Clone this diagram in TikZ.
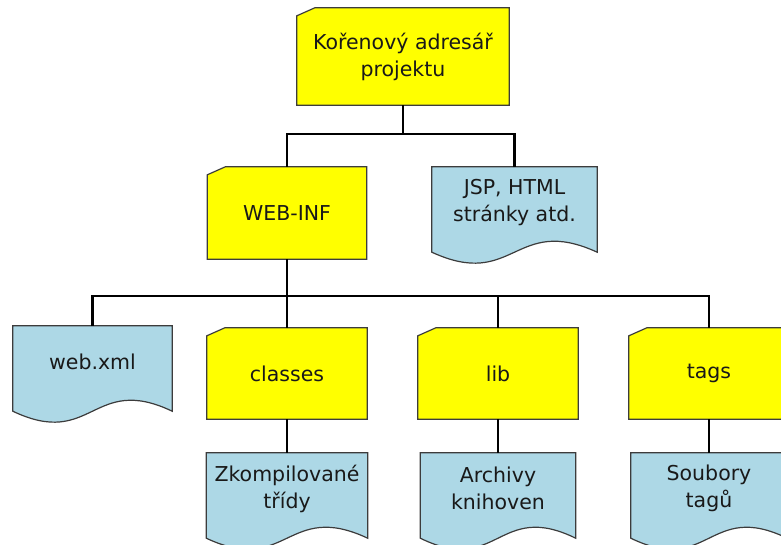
\documentclass[tikz,border=0pt]{standalone}
\usepackage{fontspec}
\setmainfont{DejaVu Sans}
\usepackage{xcolor}
\usepackage{tikz}
\usetikzlibrary{calc,backgrounds}
\definecolor{folderyellow}{RGB}{255,255,0}
\definecolor{docblue}{RGB}{173,216,230}
\definecolor{edgegray}{RGB}{60,60,60}
\tikzset{
    fold/.style={inner sep=0pt, minimum width=160pt, minimum height=91pt, align=center, text=black!90},
    docu/.style={inner sep=0pt, minimum width=160pt, minimum height=71pt, align=center, text=black!90},
    foldshape/.style={draw=edgegray, line width=1.2pt, fill=folderyellow},
    docushape/.style={draw=edgegray, line width=1.2pt, fill=docblue},
    conn/.style={draw=black, line width=2.5pt}}

\begin{document}
\begin{tikzpicture}[x=1pt,y=-1pt,font=\fontsize{20.5}{27}\selectfont]
\useasboundingbox (0,0) rectangle (781,544);

% folders
\node[fold, minimum width=212pt, minimum height=97pt] (root) at (403,56.5) {Kořenový adresář\\projektu};
\node[fold, minimum width=159pt, minimum height=92pt] (webinf) at (287,213) {WEB-INF};
\node[fold] (classes) at (287,373.5) {classes};
\node[fold] (lib) at (498,373.5) {lib};
\node[fold] (tags) at (709,373.5) {tags};

% documents
\node[docu, minimum width=165pt] (jsp) at (514.5,202.5) {JSP, HTML\\stránky atd.};
\node[docu, minimum width=159pt] (webxml) at (92.5,361.5) {web.xml};
\node[docu, minimum width=161pt] (zkomp) at (287,488.5) {Zkompilované\\třídy};
\node[docu, minimum width=155pt] (archivy) at (498,488.5) {Archivy\\knihoven};
\node[docu, minimum width=156pt] (soubory) at (709,488.5) {Soubory\\tagů};

% connectors
\draw[conn] (root.south) -- ++(0,29) coordinate (bus1);
\draw[conn] (webinf.north) |- (bus1) -| (jsp.north);
\coordinate (bus2) at ($(webinf.south)+(0,37)$);
\draw[conn] (webxml.north) |- (bus2) -| (tags.north);
\draw[conn] (webinf.south) -- (classes.north);
\draw[conn] (lib.north) -- (lib.north |- bus2);
\draw[conn] (classes.south) -- (zkomp.north);
\draw[conn] (lib.south) -- (archivy.north);
\draw[conn] (tags.south) -- (soubory.north);

\begin{pgfonlayer}{background}
\clip (0,0) rectangle (781,544);
\foreach \n in {root,webinf,classes,lib,tags}
  \draw[foldshape] ($(\n.north west)+(0,8)$) -- ($(\n.north west)+(18,0)$) -- (\n.north east)
    -- (\n.south east) -- (\n.south west) -- cycle;
\foreach \n in {jsp,webxml,zkomp,archivy,soubory}
  \draw[docushape] (\n.north west) -- (\n.north east) -- ($(\n.south east)+(0,14)$)
    .. controls ($(\n.south)+(0,-24)$) and ($(\n.south)+(0,52)$) .. ($(\n.south west)+(0,14)$) -- cycle;
\end{pgfonlayer}
\end{tikzpicture}
\end{document}
